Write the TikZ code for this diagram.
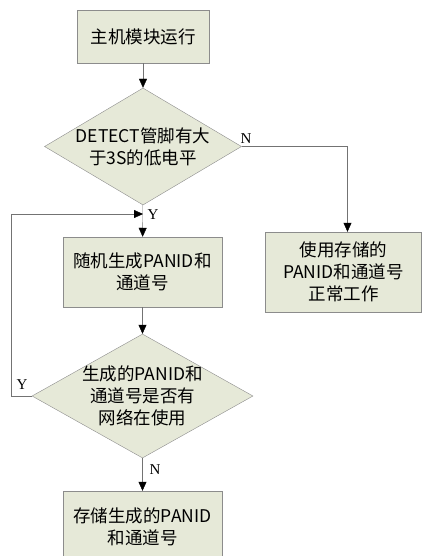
\documentclass[tikz,border=0pt]{standalone}
\usepackage{fontspec}
\setmainfont{Noto Sans CJK SC}
\newfontfamily\latfont{Liberation Serif}
\usetikzlibrary{shapes.geometric,arrows.meta}
\definecolor{boxfill}{RGB}{230,233,216}
\definecolor{boxline}{RGB}{140,140,140}
\tikzset{
  procbox/.style={rectangle,draw=boxline,fill=boxfill,align=center,inner sep=0pt},
  decision/.style={diamond,draw=boxline,fill=boxfill,inner sep=0pt},
  flow/.style={draw=black!55,-{Triangle[length=9pt,width=8pt,color=black]}},
  yn/.style={font=\latfont\fontsize{15}{17}\selectfont,inner sep=1pt},
}
\begin{document}
\begin{tikzpicture}[x=1pt,y=-1pt,font=\fontsize{17.5}{22}\selectfont]
	\clip (0,0) rectangle (422,556);
	\node (run) at (143,36.5) [procbox,minimum width=132,minimum height=53] {主机模块运行};
	\node (d1) at (143,146.5) [decision,minimum width=197,minimum height=117,
	  label={[align=center]center:DETECT管脚有大\\于3S的低电平}] {};
	\node (gen) at (142.5,272) [procbox,minimum width=159,minimum height=70] {随机生成PANID和\\通道号};
	\node (store) at (343.5,272) [procbox,minimum width=156,minimum height=80] {使用存储的\\PANID和通道号\\正常工作};
	\node (d2) at (142.5,396) [decision,minimum width=221,minimum height=124,
	  label={[align=center]center:生成的PANID和\\通道号是否有\\网络在使用}] {};
	\node (save) at (142.5,527) [procbox,minimum width=159,minimum height=72] {存储生成的PANID\\和通道号};
	\coordinate (back) at (143,214);
	% connectors
	\draw [flow] (run) -- (d1);
	\draw [flow] (d1) -- (gen);
	\draw [flow] (d1.east) -| ([xshift=4]store.north);
	\draw [flow] (gen) -- (d2);
	\draw [flow] (d2) -- (save);
	\draw [flow] (d2.west) -- ++(-21,0) |- (back);
	% branch labels
	\node [yn] (n1) at (246,139) {N};
	\node [yn] (y1) at (153,215) {Y};
	\node [yn] (y2) at (22,385) {Y};
	\node [yn] (n2) at (155,470) {N};
\end{tikzpicture}
\end{document}
